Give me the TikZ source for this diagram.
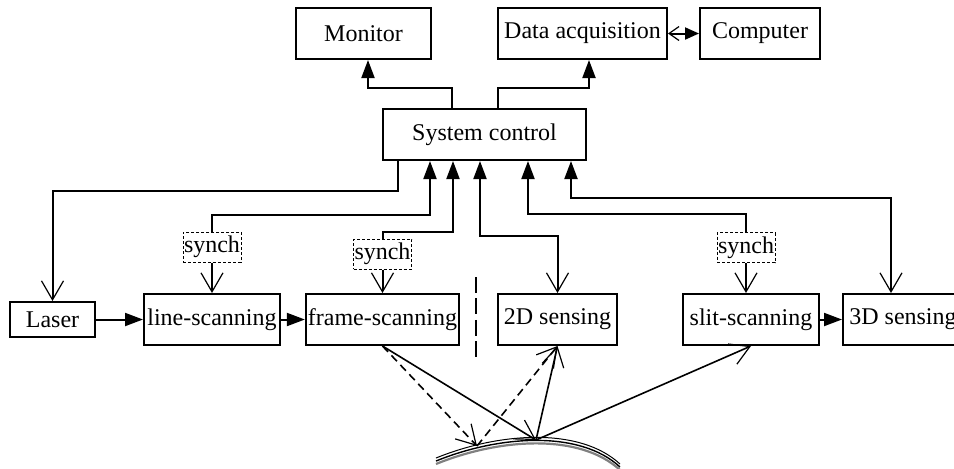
\documentclass[tikz,border=0pt]{standalone}
\usepackage{fontspec}
\setmainfont{Liberation Serif}
\usetikzlibrary{arrows.meta}

\begin{document}
\begin{tikzpicture}[x=0.5pt,y=-0.5pt,
    box/.style={draw,line width=1pt,minimum height=25.5pt,inner sep=1pt,font=\fontsize{12}{14}\selectfont},
    synchbox/.style={draw,line width=0.5pt,dash pattern=on 1.5pt off 1pt,inner sep=0.5pt,minimum width=29pt,minimum height=15pt,font=\fontsize{12}{14}\selectfont},
    wire/.style={line width=1pt},
    ray/.style={line width=0.8pt},
    filltip/.style={-{Triangle[length=9pt,width=6.5pt]}},
    opentip/.style={-{Straight Barb[length=9.5pt,width=11pt,line width=0.6pt]}},
    fillopen/.style={{Triangle[length=9pt,width=6.5pt]}-{Straight Barb[length=9.5pt,width=11pt,line width=0.6pt]}},
    openfill/.style={{Straight Barb[length=5pt,width=7pt,line width=0.6pt]}-{Triangle[length=7pt,width=6pt]}}
]
\clip (0,0) rectangle (954,468);

\node[box,minimum width=67.5pt] (monitor) at (363.5,33.5) {Monitor};
\node[box,minimum width=84.5pt] (daq) at (582.5,33.5) {Data acquisition};
\node[box,minimum width=60pt] (comp) at (760,33.5) {Computer};
\node[box,minimum width=101.5pt] (ctrl) at (484.5,134.5) {System control};
\node[box,minimum width=42.5pt,minimum height=17.5pt] (laser) at (52.5,319.5) {Laser};
\node[box,minimum width=68pt] (line) at (212,319.5) {line-scanning};
\node[box,minimum width=76.5pt] (frame) at (382.5,319.5) {frame-scanning};
\node[box,minimum width=59.5pt] (twoD) at (557.5,319.5) {2D sensing};
\node[box,minimum width=68pt] (slit) at (751,319.5) {slit-scanning};
\node[box,minimum width=60pt] (threeD) at (903,319.5) {3D sensing};
\node[synchbox] (synchA) at (212,247) {synch};
\node[synchbox] (synchB) at (382.5,254) {synch};
\node[synchbox] (synchC) at (746,247.5) {synch};

\draw[wire,filltip] ([xshift=-16.25pt]ctrl.north) -- ++(0,-20) -| ([xshift=2.25pt]monitor.south);
\draw[wire,filltip] ([xshift=6.75pt]ctrl.north) -- ++(0,-20) -| ([xshift=3.25pt]daq.south);
\draw[wire,openfill] (daq) -- (comp);
\draw[wire,opentip] ([xshift=-43.25pt]ctrl.south) -- ++(0,30) -| (laser.north);
\draw[wire,filltip] (synchA.north) -- ++(0,-17) -| ([xshift=-27.25pt]ctrl.south);
\draw[wire,opentip] (synchA) -- (line);
\draw[wire,filltip] (synchB.north) -- ++(0,-7) -| ([xshift=-15.75pt]ctrl.south);
\draw[wire,opentip] (synchB) -- (frame);
\draw[wire,fillopen] ([xshift=-2.25pt]ctrl.south) -- ++(0,75) -| (twoD.north);
\draw[wire,filltip] (synchC.north) -- ++(0,-18) -| ([xshift=21.75pt]ctrl.south);
\draw[wire,opentip] (synchC) -- (synchC |- slit.north);
\draw[wire,fillopen] ([xshift=43.25pt]ctrl.south) -- ++(0,37) -| ([xshift=-6pt]threeD.north);
\draw[wire,filltip] (laser) -- (line);
\draw[wire,filltip] (line) -- (frame);
\draw[wire,filltip] (slit) -- (threeD);

\draw[wire,dash pattern=on 8pt off 2.7pt] (476,277) -- (476,357);

\foreach \dy/\lw/\col in {1.5/0.5/black,0/0.7/black,-1.5/1.1/gray} {
    \draw[yshift=\dy pt,line width=\lw pt,draw=\col] (436,461) .. controls (500,435) and (580,430) .. (620,467);
}

\coordinate (hitA) at (477,446);
\coordinate (hitB) at (536,440);
\draw[ray,dash pattern=on 4pt off 2.5pt,opentip] (frame.south) -- (hitA);
\draw[ray,opentip] (frame.south) -- (hitB);
\draw[ray,dash pattern=on 4pt off 2.5pt,opentip] (hitA) -- (twoD.south);
\draw[ray,opentip] (hitB) -- (twoD.south);
\draw[ray,opentip] (hitB) -- (slit.south);
\end{tikzpicture}
\end{document}
